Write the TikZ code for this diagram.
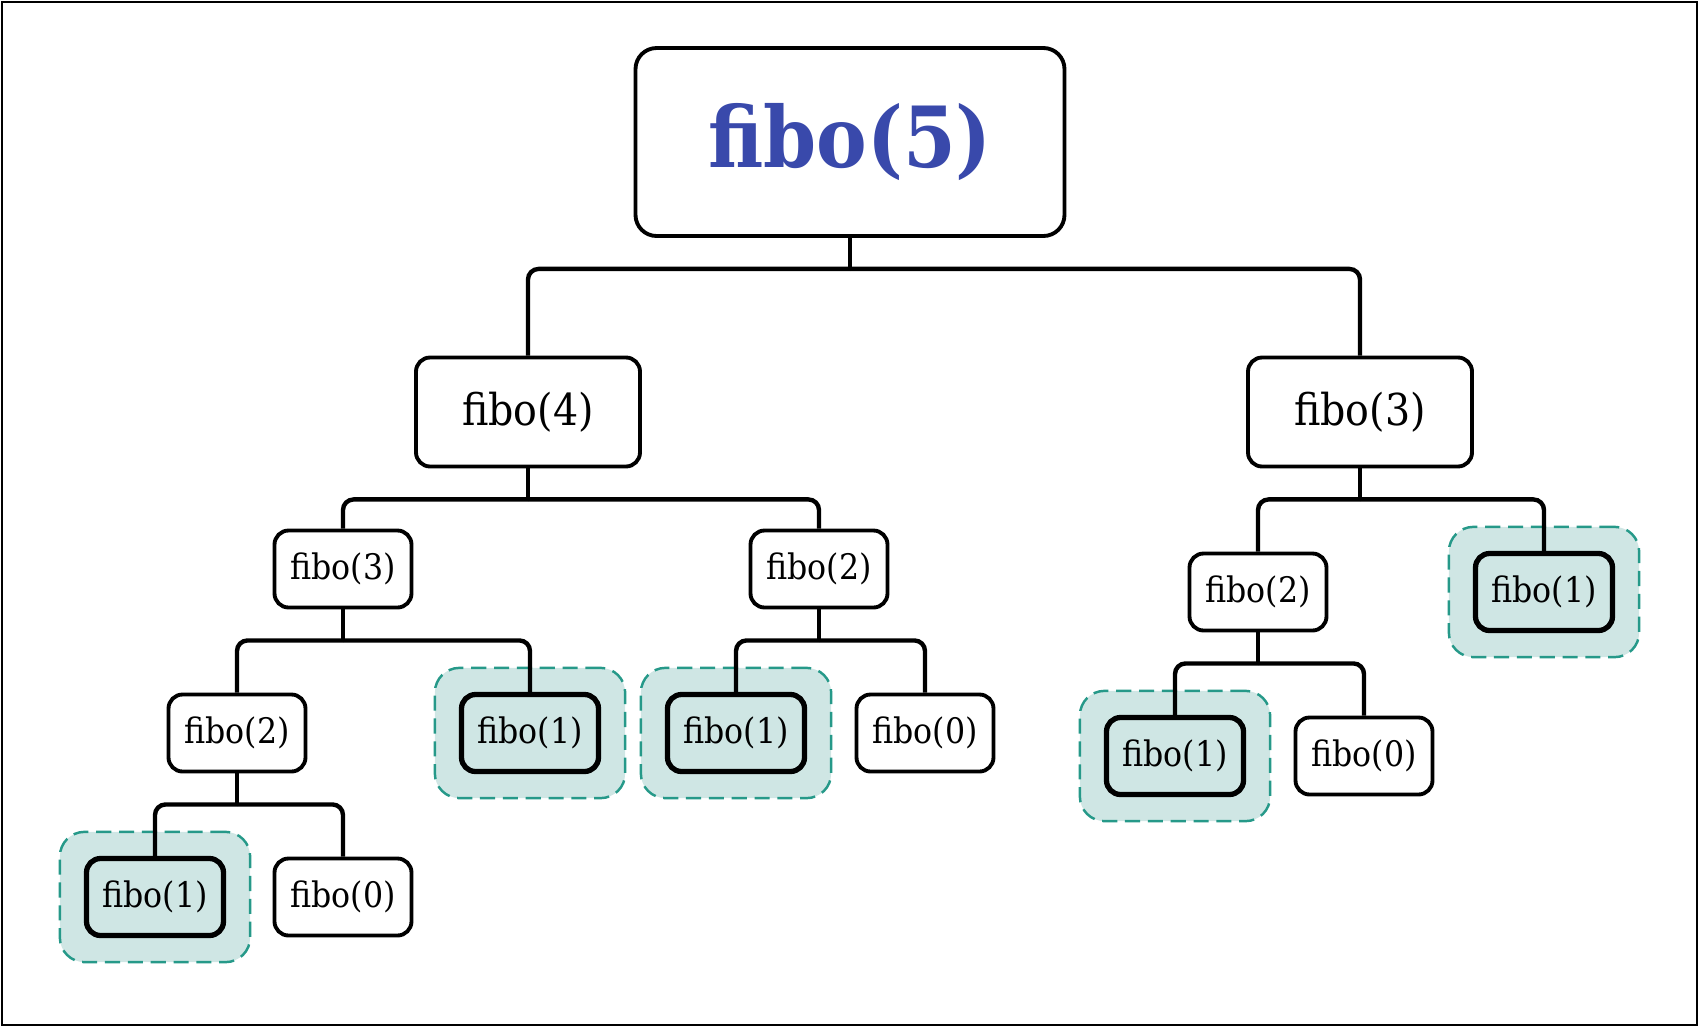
\documentclass[tikz,border=0pt]{standalone}
\usepackage{fontspec}
\setmainfont{DejaVu Serif}[FakeStretch=0.9]
\definecolor{fiboblue}{RGB}{57, 73, 171}
\definecolor{hlteal}{RGB}{38, 153, 137}
\definecolor{hlfill}{RGB}{207, 230, 228}
\usetikzlibrary{positioning, fit, backgrounds}
\tikzset{
    callbox/.style={draw, rectangle, rounded corners=4pt, line width=1.1pt, minimum width=1.37cm, minimum height=0.77cm, font=\fontsize{10}{12}\selectfont, inner sep=0pt, fill=white},
    midbox/.style={callbox, minimum width=2.24cm, minimum height=1.09cm, font=\fontsize{12.5}{15}\selectfont},
    rootbox/.style={callbox, minimum width=4.29cm, minimum height=1.88cm, rounded corners=6pt, font=\fontsize{24}{29}\selectfont\bfseries, text=fiboblue},
    basebox/.style={callbox, fill=hlfill, line width=1.5pt},
    hilite/.style={draw=hlteal, fill=hlfill, dash pattern=on 4.3pt off 2.2pt, line width=0.7pt, rounded corners=7pt, inner sep=0.24cm},
    link/.style={line width=1.25pt, rounded corners=3pt},
}

\begin{document}
\begin{tikzpicture}
    \useasboundingbox (0,0) rectangle (17,-10.27);
    \draw[line width=0.7pt] (0.02,-0.02) rectangle (16.97,-10.25);

    % === root ===
    \node[rootbox] (f5) at (8.5, -1.42) {fibo(5)};

    % === left branch ===
    \node[midbox] (f4) at (5.28, -4.12) {fibo(4)};
    \node[callbox] (f3l) at (3.43, -5.69) {fibo(3)};
    \node[callbox] (f2m) at (8.19, -5.69) {fibo(2)};
    \node[callbox] (f2l) at (2.37, -7.33) {fibo(2)};
    \node[basebox] (f1a) at (5.30, -7.33) {fibo(1)};
    \node[basebox] (f1b) at (7.36, -7.33) {fibo(1)};
    \node[callbox] (f0a) at (9.25, -7.33) {fibo(0)};
    \node[basebox] (f1c) at (1.55, -8.97) {fibo(1)};
    \node[callbox] (f0b) at (3.43, -8.97) {fibo(0)};

    % === right branch ===
    \node[midbox] (f3r) at (13.6, -4.12) {fibo(3)};
    \node[callbox] (f2r) at (12.58, -5.92) {fibo(2)};
    \node[basebox] (f1d) at (15.44, -5.92) {fibo(1)};
    \node[basebox] (f1e) at (11.75, -7.56) {fibo(1)};
    \node[callbox] (f0c) at (13.64, -7.56) {fibo(0)};

    % base cases
    \begin{scope}[on background layer]
        \foreach \b in {f1a, f1b, f1c, f1d, f1e}
            \node[hilite, fit=(\b)] (hl-\b) {};
    \end{scope}

    % === calls ===
    \foreach \p/\l/\r in {f5/f4/f3r, f4/f3l/f2m, f3l/f2l/f1a, f2m/f1b/f0a, f2l/f1c/f0b, f3r/f2r/f1d, f2r/f1e/f0c} {
        \draw[link] (\p.south) -- ++(0,-0.31) coordinate (j-\p);
        \draw[link] (j-\p) -| (\l.north);
        \draw[link] (j-\p) -| (\r.north);
    }
\end{tikzpicture}
\end{document}
